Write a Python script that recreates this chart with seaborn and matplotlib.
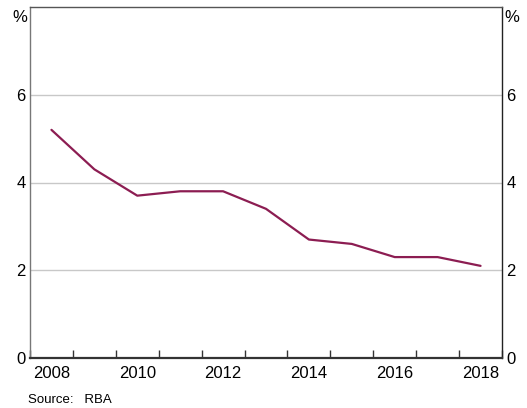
import numpy as np
import pandas as pd
import seaborn as sns
import matplotlib.pyplot as plt

years = [2008, 2009, 2010, 2011, 2012, 2013, 2014, 2015, 2016, 2017, 2018]
values = [5.2, 4.3, 3.7, 3.8, 3.8, 3.4, 2.7, 2.6, 2.3, 2.3, 2.1]
year_labels = ['2008', '2010', '2012', '2014', '2016', '2018']

df = pd.DataFrame({'year': np.array(years) + 0.5, 'value': values})

sns.set_style('white')
plt.rcParams['font.family'] = ['Liberation Sans', 'DejaVu Sans']
plt.rcParams['text.color'] = 'black'
plt.rcParams['xtick.color'] = 'black'
plt.rcParams['ytick.color'] = 'black'

fig = plt.figure(figsize=(5.27, 4.08), dpi=100)
ax = fig.add_axes([30 / 527, 50 / 408, 472 / 527, 351 / 408])

sns.lineplot(data=df, x='year', y='value', ax=ax, color='#8C1D52', linewidth=1.6)

ax.set_xlim(2008, 2019)
ax.set_ylim(0, 8)

# horizontal grid lines
for v in [2, 4, 6]:
    ax.axhline(v, color='#c8c8c8', linewidth=1, zorder=0)

# x ticks at year boundaries, labels at mid-year
ax.set_xticks(np.arange(2008, 2020))
ax.set_xticklabels([])
ax.tick_params(axis='x', bottom=True, direction='in', length=6, width=1, color='#333333')
for lab in year_labels:
    ax.text(int(lab) + 0.5, -0.18, lab, ha='center', va='top', fontsize=12,
            color='black', transform=ax.transData)

ax.set_yticks([0, 2, 4, 6])
ax.tick_params(axis='y', length=0, labelsize=12, pad=3, labelcolor='black')
ax.tick_params(axis='y', which='both', labelright=True, labelleft=True)
ax.set_xlabel('')
ax.set_ylabel('')

for s in ['left', 'right', 'top']:
    ax.spines[s].set_linewidth(1)
ax.spines['left'].set_color('#777777')
ax.spines['top'].set_color('#555555')
ax.spines['right'].set_color('#222222')
ax.spines['bottom'].set_color('#333333')
ax.spines['bottom'].set_linewidth(1.6)

fig.text(20 / 527, 1 - 17 / 408, '%', ha='center', va='center', fontsize=12)
fig.text(512 / 527, 1 - 17 / 408, '%', ha='center', va='center', fontsize=12)
fig.text(28 / 527, 1 - 400 / 408, 'Source:   RBA', ha='left', va='center', fontsize=9.5)

fig.savefig('out.png', dpi=100)
